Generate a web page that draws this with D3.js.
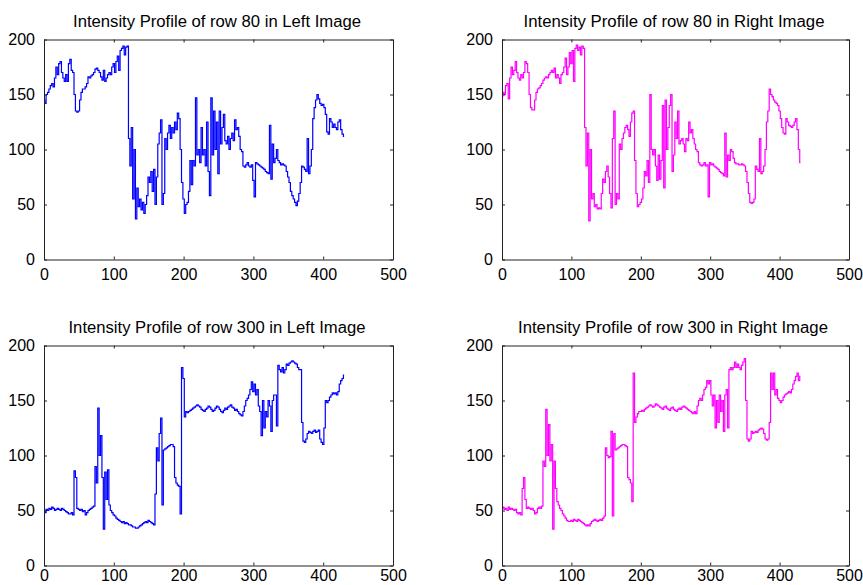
<!DOCTYPE html>
<html>
<head>
<meta charset="utf-8">
<script src="https://cdn.jsdelivr.net/npm/d3@7"></script>
<style>
  body { margin: 0; background: #fff; }
  text { font-family: "Liberation Sans", Arial, sans-serif; fill: #000; }
</style>
</head>
<body>
<div id="chart"></div>
<script>
// sample spacing along the image row (pixel columns)
var step = 2;

var xTicks = [0, 100, 200, 300, 400, 500];
var yTicks = [0, 50, 100, 150, 200];

var titles = [
    "Intensity Profile of row 80 in Left Image",
    "Intensity Profile of row 80 in Right Image",
    "Intensity Profile of row 300 in Left Image",
    "Intensity Profile of row 300 in Right Image"
];

var row80Left = [
    145,142,150,152,155,158,160,157,165,175,
    168,178,180,170,165,162,168,162,178,182,
    172,170,150,135,134,135,145,152,155,155,
    157,160,166,165,167,168,170,173,174,172,
    170,166,163,172,162,165,168,170,168,175,
    178,170,180,185,172,190,192,194,186,193,
    194,110,85,120,55,100,37,65,48,55,
    45,52,42,50,58,75,70,80,62,82,
    50,75,105,115,127,50,60,110,100,115,
    122,110,120,115,125,118,133,128,100,70,
    55,42,50,52,62,90,68,90,85,147,
    95,100,88,120,95,100,85,125,80,58,
    147,95,135,100,125,78,135,105,120,132,
    108,105,112,100,110,115,108,127,118,120,
    112,100,98,85,84,86,88,85,84,86,
    72,57,88,87,86,85,84,83,82,80,
    79,78,122,73,105,88,92,100,90,88,
    86,87,86,85,80,75,70,62,58,55,
    52,49,53,60,70,85,84,82,80,110,
    78,85,100,128,138,145,150,146,142,140,
    141,138,132,116,114,128,125,120,123,120,
    118,125,127,118,114,112
];

var row80Right = [
    148,152,150,158,160,146,165,175,168,172,
    180,170,165,163,168,165,170,180,178,170,
    150,138,136,136,145,152,155,156,158,160,
    163,165,166,165,168,170,172,170,174,165,
    168,165,160,168,170,175,183,168,175,188,
    178,190,162,192,195,190,193,186,194,192,
    120,85,115,35,100,55,60,48,50,46,
    47,46,60,73,70,80,85,75,60,47,
    110,135,50,60,55,105,100,110,115,120,
    122,118,112,125,133,135,90,60,48,50,
    52,55,65,80,76,90,70,150,100,95,
    100,85,72,95,73,90,140,65,145,100,
    120,140,150,80,95,125,110,135,105,108,
    110,105,98,110,108,125,115,118,110,105,
    100,98,88,86,85,86,88,85,86,57,
    88,86,87,85,84,83,82,80,79,78,
    76,115,75,95,90,100,98,92,88,87,
    87,86,86,87,86,85,80,70,60,52,
    51,52,55,85,82,80,110,78,80,85,
    100,125,135,155,150,148,145,143,142,140,
    135,128,120,115,114,128,125,122,121,120,
    122,125,128,118,100,88
];

var row300Left = [
    50,48,51,50,52,51,53,52,50,51,
    52,51,50,52,51,50,49,48,47,47,
    48,46,86,80,52,51,50,51,49,50,
    46,48,50,51,52,53,54,90,75,143,
    100,118,80,33,85,60,87,55,50,48,
    46,45,43,42,41,40,39,40,38,39,
    38,37,37,36,35,35,34,34,35,36,
    37,38,39,40,39,41,40,39,38,37,
    65,107,95,120,134,55,105,106,107,108,
    109,110,110,108,80,75,73,72,47,180,
    170,135,140,139,140,141,142,143,144,145,
    146,145,144,142,141,140,142,143,145,144,
    142,140,141,143,145,144,142,140,139,141,
    143,142,144,145,146,144,143,141,142,140,
    138,137,136,140,145,150,152,155,160,167,
    158,165,155,160,145,140,118,150,125,140,
    135,150,145,122,150,155,155,127,182,178,
    176,180,175,178,183,182,184,185,186,185,
    184,183,180,178,178,130,113,112,115,120,
    122,121,120,122,123,121,122,123,115,112,
    110,125,150,148,150,153,155,157,156,157,
    155,158,165,168,170,173
];

var row300Right = [
    52,53,51,52,50,53,51,52,51,50,
    51,48,47,48,46,70,80,60,52,53,
    52,51,52,50,47,48,52,53,52,54,
    95,90,142,100,128,95,110,33,95,70,
    58,55,52,50,47,45,43,41,40,40,
    41,40,42,41,40,42,41,40,39,38,
    37,36,37,36,38,40,41,42,41,40,
    41,42,41,43,45,107,100,98,99,122,
    45,120,105,106,107,108,109,110,110,109,
    108,80,78,75,58,175,130,135,138,140,
    140,141,140,142,143,144,145,146,145,144,
    145,147,146,145,144,143,142,144,145,143,
    142,141,143,144,142,141,140,142,143,142,
    144,145,144,143,142,141,140,139,138,140,
    138,145,150,152,150,155,160,162,168,165,
    168,155,145,155,125,150,130,155,140,150,
    122,155,160,125,178,180,178,180,185,180,
    183,180,178,182,185,188,150,115,113,115,
    122,120,121,122,121,123,124,125,124,120,
    115,114,115,130,175,160,175,155,160,152,
    150,148,150,153,155,156,157,158,157,160,
    165,168,172,175,168,172
];

var panels = [
    {values: row80Left,   color: "#0000ff", left: 44,  right: 393, top: 39.5,  bottom: 259.5, tx: 217, tw: 288, pad: 9.5},
    {values: row80Right,  color: "#ff00ff", left: 502, right: 849, top: 39.5,  bottom: 259.5, tx: 674, tw: 301, pad: 9.5},
    {values: row300Left,  color: "#0000ff", left: 44,  right: 393, top: 345.5, bottom: 565.5, tx: 217, tw: 297, pad: 4.5},
    {values: row300Right, color: "#ff00ff", left: 502, right: 849, top: 345.5, bottom: 565.5, tx: 673, tw: 310, pad: 4.5}
];

var svg = d3.select("#chart")
    .append("svg")
    .attr("width", 863)
    .attr("height", 585);

svg.append("rect")
    .attr("width", 863)
    .attr("height", 585)
    .attr("fill", "#fff");

panels.forEach(function(p, k) {
    var x = d3.scaleLinear()
        .domain([0, 500])
        .range([p.left, p.right]);
    var y = d3.scaleLinear()
        .domain([0, 200])
        .range([p.bottom, p.top]);

    var g = svg.append("g");

    // profile line, drawn as steps like the pixel-wise plot
    var line = d3.line()
        .curve(d3.curveStep)
        .x(function(d, i) { return x(i * step); })
        .y(function(d) { return y(d); });
    g.append("path")
        .datum(p.values)
        .attr("fill", "none")
        .attr("stroke", p.color)
        .attr("stroke-width", 1.2)
        .attr("d", line);

    // axes, ticks pointing inward on all four sides
    g.append("g")
        .attr("transform", "translate(0," + p.bottom + ")")
        .call(d3.axisBottom(x).tickValues(xTicks).tickSizeInner(-3).tickSizeOuter(0).tickPadding(p.pad));
    g.append("g")
        .attr("transform", "translate(0," + p.top + ")")
        .call(d3.axisTop(x).tickValues(xTicks).tickSizeInner(-3).tickSizeOuter(0).tickFormat(""));
    g.append("g")
        .attr("transform", "translate(" + p.left + ",0)")
        .call(d3.axisLeft(y).tickValues(yTicks).tickSizeInner(-3).tickSizeOuter(0).tickPadding(9));
    g.append("g")
        .attr("transform", "translate(" + p.right + ",0)")
        .call(d3.axisRight(y).tickValues(yTicks).tickSizeInner(-3).tickSizeOuter(0).tickFormat(""));

    g.selectAll(".tick line").attr("stroke", "#222");
    g.selectAll(".domain").attr("stroke", "#222");
    g.selectAll(".tick text")
        .style("font-size", "16px")
        .style("font-family", "'Liberation Sans', Arial, sans-serif")
        .attr("fill", "#000");

    g.append("text")
        .attr("x", p.tx)
        .attr("y", p.top - 13)
        .attr("text-anchor", "middle")
        .attr("textLength", p.tw)
        .attr("lengthAdjust", "spacingAndGlyphs")
        .style("font-size", "16px")
        .text(titles[k]);
});
</script>
</body>
</html>
